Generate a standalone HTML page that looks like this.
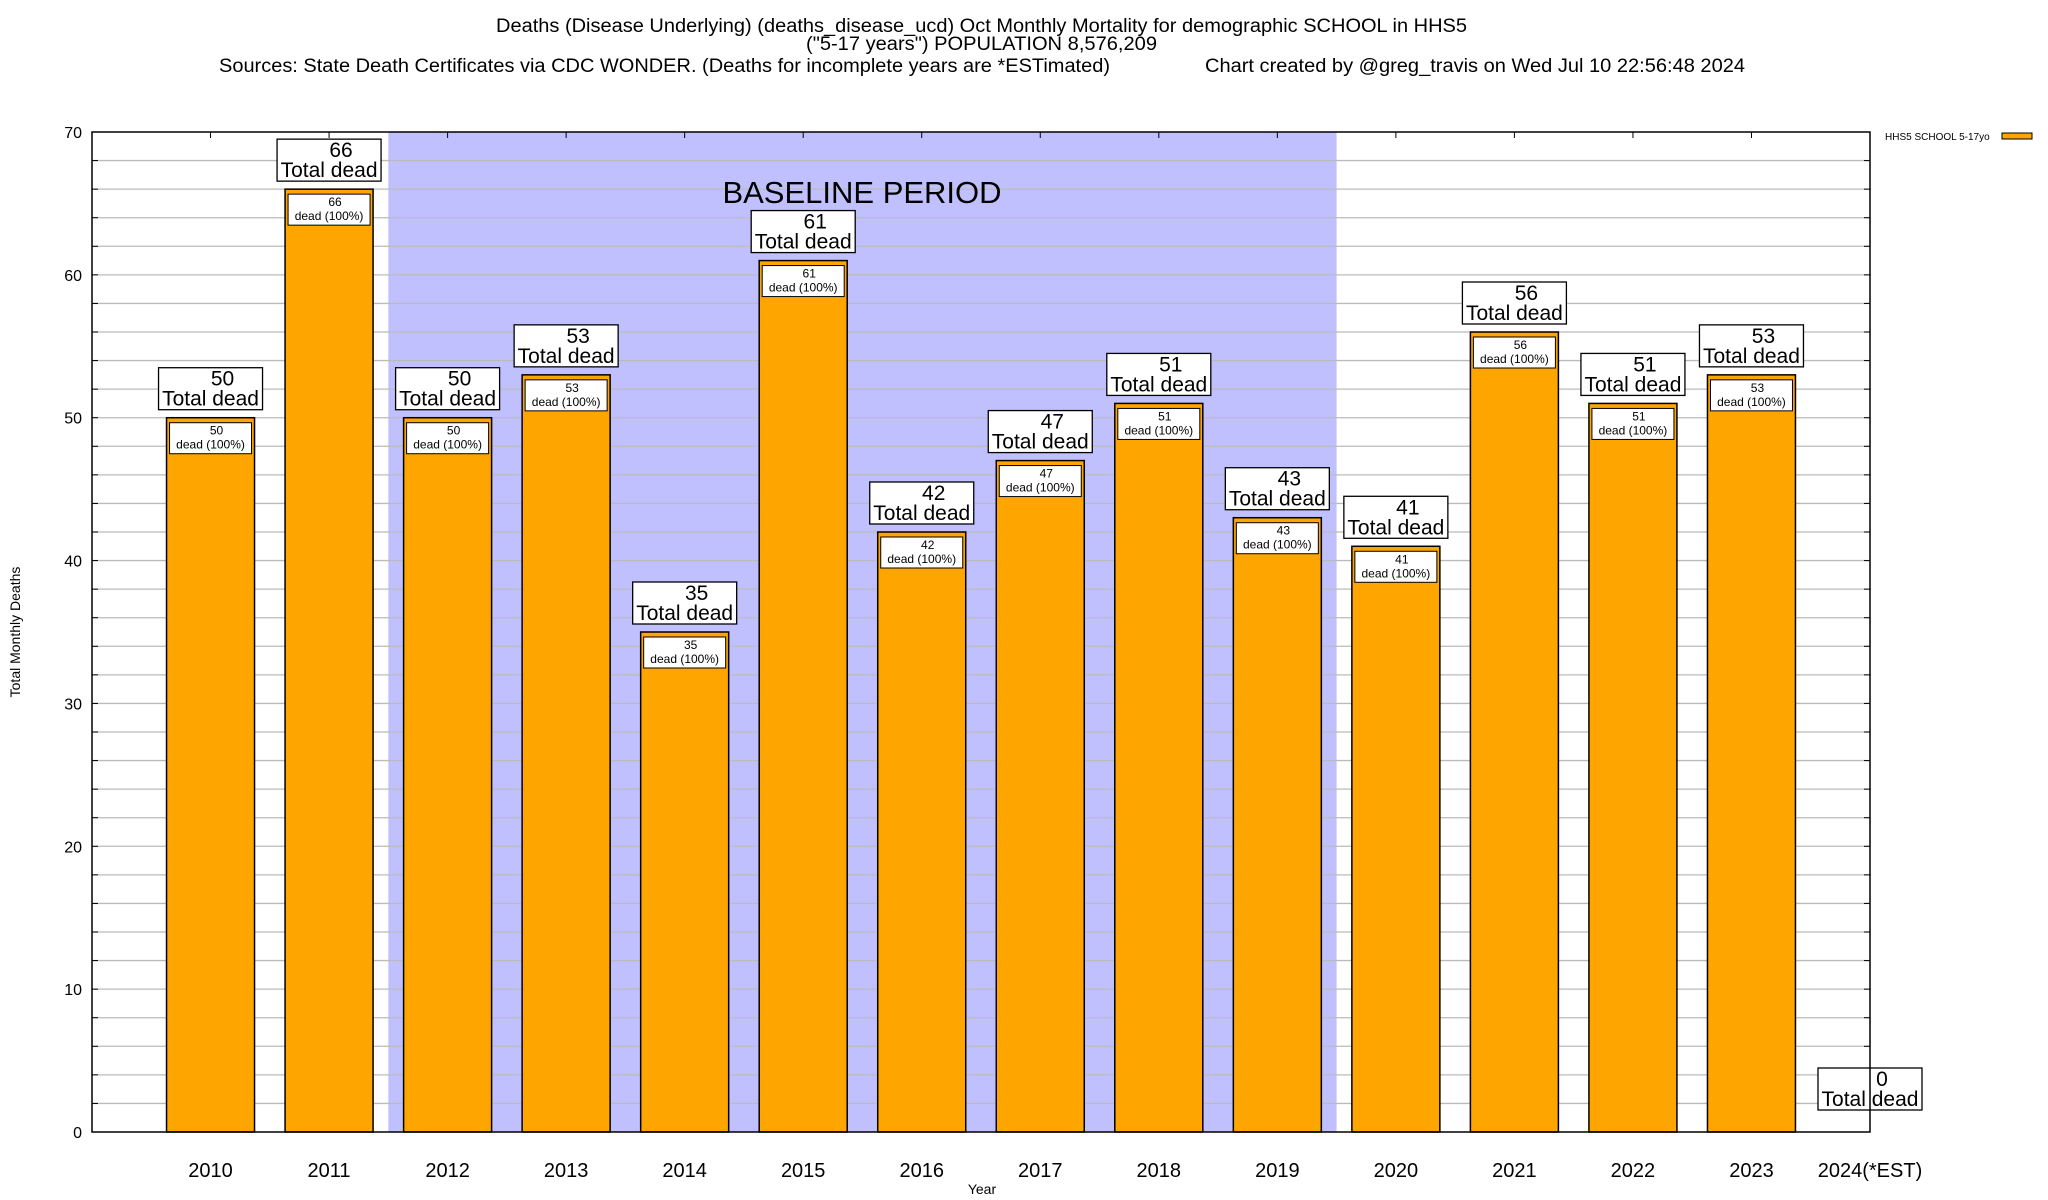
<!DOCTYPE html>
<html><head><meta charset="utf-8"><style>
body{margin:0;background:#fff}
svg{display:block;font-family:"Liberation Sans",sans-serif}
</style></head><body>
<svg id="chart" width="2048" height="1200" viewBox="0 0 2048 1200">
<text x="496" y="32" font-size="19" textLength="971" lengthAdjust="spacingAndGlyphs">Deaths (Disease Underlying) (deaths_disease_ucd) Oct Monthly Mortality for demographic SCHOOL in HHS5</text>
<text x="806" y="50" font-size="19" textLength="351" lengthAdjust="spacingAndGlyphs">("5-17 years") POPULATION 8,576,209</text>
<text x="219" y="72" font-size="19" textLength="891" lengthAdjust="spacingAndGlyphs">Sources: State Death Certificates via CDC WONDER. (Deaths for incomplete years are *ESTimated)</text>
<text x="1205" y="72" font-size="19" textLength="540" lengthAdjust="spacingAndGlyphs">Chart created by @greg_travis on Wed Jul 10 22:56:48 2024</text>
<g id="plot"></g>
<text transform="translate(20,632) rotate(-90)" text-anchor="middle" font-size="14">Total Monthly Deaths</text>
<text x="982" y="1194" text-anchor="middle" font-size="14">Year</text>
<text x="1885" y="140" font-size="10">HHS5 SCHOOL 5-17yo</text>
<rect x="2002" y="133" width="30" height="6" fill="#ffa500" stroke="#000" stroke-width="1"/>
</svg>
<script>
const categories=["2010","2011","2012","2013","2014","2015","2016","2017","2018","2019","2020","2021","2022","2023","2024(*EST)"];
const values=[50,66,50,53,35,61,42,47,51,43,41,56,51,53,0];
const yTicks=[0,10,20,30,40,50,60,70];
const baselineRange=[1.5,9.5];
const NS="http://www.w3.org/2000/svg";
const L=92,R=1870,T=132,B=1132,yMax=70;
const step=(R-L)/(categories.length);
const x=i=>L+(i+1)*step;
const y=v=>B-(v/yMax)*(B-T);
const g=document.getElementById('plot');
function mk(tag,a,parent){const e=document.createElementNS(NS,tag);for(const k in a)e.setAttribute(k,a[k]);(parent||g).appendChild(e);return e;}
// baseline shading
const sh=mk('rect',{x:x(baselineRange[0]),y:T,width:x(baselineRange[1])-x(baselineRange[0]),height:B-T,fill:'#c0c0ff'});


// grid
for(let v=2;v<yMax;v+=2){
 const ln=mk('line',{x1:L,x2:R,y1:y(v),y2:y(v),stroke:'#bbb','stroke-width':1.3});
 
 
 mk('line',{x1:L,x2:L+6,y1:y(v),y2:y(v),stroke:'#000'});
 mk('line',{x1:R-6,x2:R,y1:y(v),y2:y(v),stroke:'#000'});
}
const bt=mk('text',{x:862,y:203,'font-size':31,'text-anchor':'middle'});
bt.textContent='BASELINE PERIOD';


yTicks.forEach(v=>{
 const t=mk('text',{x:L-10,y:y(v)+6,'font-size':16,'text-anchor':'end'});
 t.textContent=v;
 
 
});
categories.forEach((c,i)=>{
 const cx=x(i),v=values[i],bw=88;
 mk('line',{x1:cx,x2:cx,y1:T,y2:T+6,stroke:'#000'});
 if(v>0){
  const b=mk('rect',{x:cx-bw/2,y:y(v),width:bw,height:B-y(v),fill:'#ffa500',stroke:'#000','stroke-width':1.5});
  
  
  const ib=mk('rect',{x:cx-41,y:y(v)+5,width:82,height:31,fill:'#fff',stroke:'#000','stroke-width':1});
  
  
  const t1=mk('text',{x:cx+6,y:y(v)+17,'font-size':12,'text-anchor':'middle'});t1.textContent=v;
  
  
  const t2=mk('text',{x:cx,y:y(v)+31,'font-size':12,'text-anchor':'middle'});t2.textContent='dead (100%)';
  
  
 }
 const bb=(v>0?y(v)-8:y(v)-22);
 const ob=mk('rect',{x:cx-52,y:bb-42,width:104,height:42,fill:'#fff',stroke:'#000','stroke-width':1.3});
 
 
 const o1=mk('text',{x:cx+12,y:bb-24,'font-size':21,'text-anchor':'middle'});o1.textContent=v;
 
 
 const o2=mk('text',{x:cx,y:bb-4,'font-size':21,'text-anchor':'middle'});o2.textContent='Total dead';
 
 
 const xl=mk('text',{x:cx,y:1177,'font-size':20,'text-anchor':'middle'});xl.textContent=c;
 
 
});
const fr=mk('rect',{x:L,y:T,width:R-L,height:B-T,fill:'none',stroke:'#000','stroke-width':1.5});


</script>
</body></html>
